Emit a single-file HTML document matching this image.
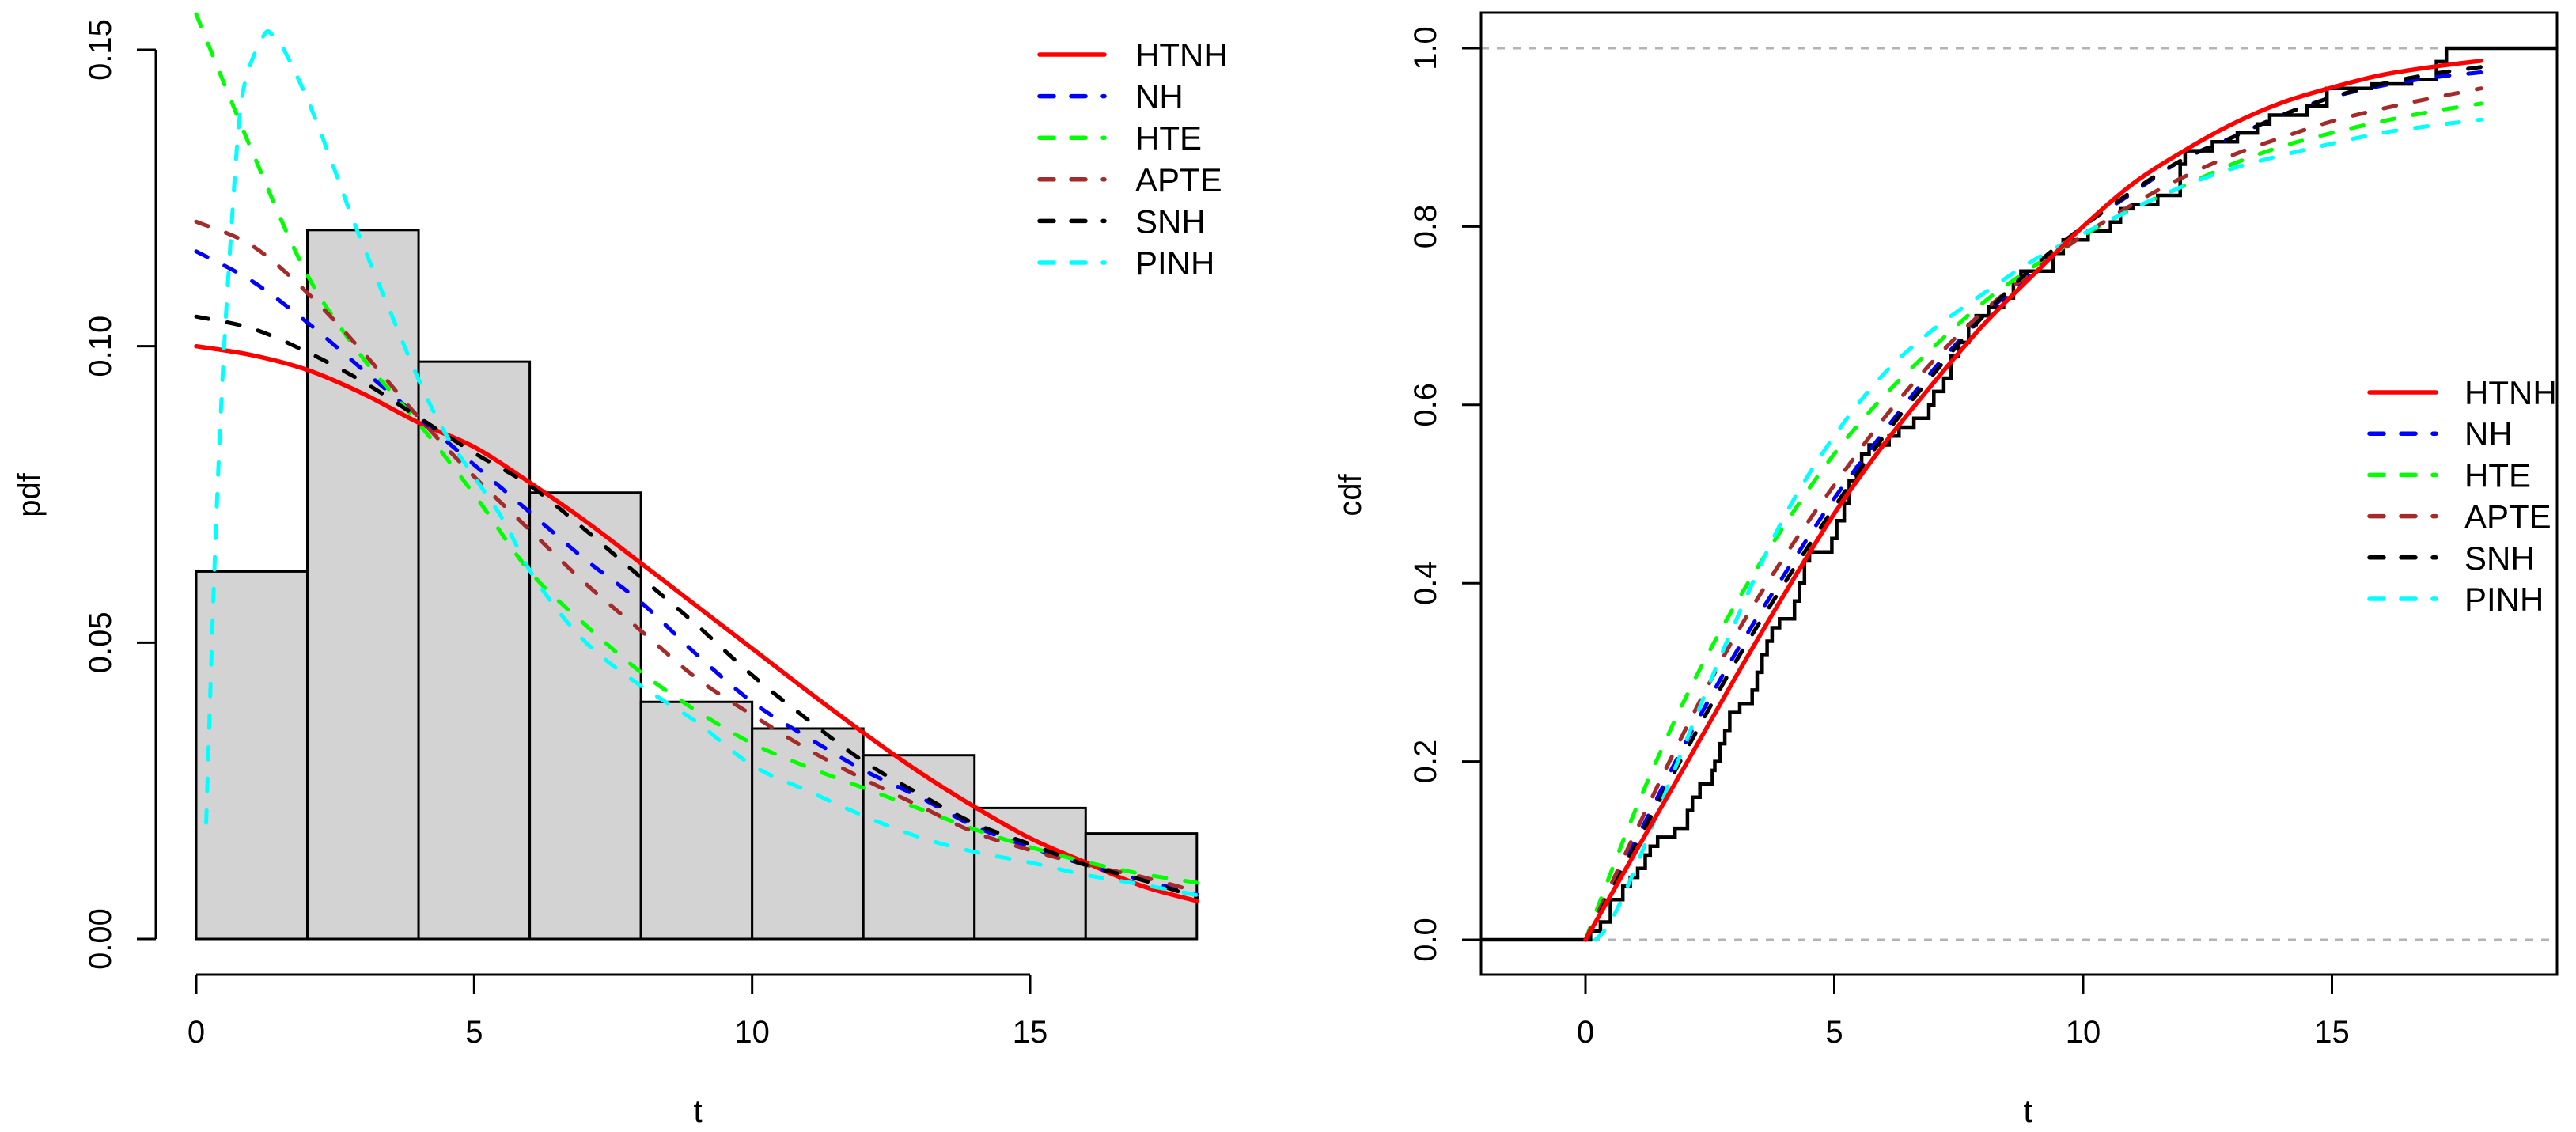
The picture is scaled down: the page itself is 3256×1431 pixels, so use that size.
<!DOCTYPE html>
<html><head><meta charset="utf-8">
<style>
html,body{margin:0;padding:0;background:#fff;}
svg{display:block;}
text{font-family:"Liberation Sans",sans-serif;fill:#000;}
</style></head>
<body>
<svg id="fig" width="3256" height="1431" viewBox="0 0 3256 1431" xmlns="http://www.w3.org/2000/svg">
<g id="left"></g>
<g id="right"></g>
</svg>
<script>
// ---------- data: left (pdf) ----------
const binEdges = [0,2,4,6,8,10,12,14,16,18];
const histHeights = [0.062,0.1196,0.0974,0.0753,0.0400,0.0355,0.0310,0.0221,0.0178];
const tGrid = [0,1,2,3,4,5,6,7,8,9,10,11,12,13,14,15,16,17,18];
const pdfHTNH = [0.100,0.0985,0.096,0.092,0.0871,0.083,0.077,0.0705,0.0634,0.0562,0.049,0.0418,0.0348,0.0282,0.0223,0.017,0.0129,0.009,0.0064];
const pdfNH   = [0.116,0.111,0.104,0.096,0.088,0.080,0.072,0.064,0.0568,0.048,0.040,0.034,0.0285,0.024,0.019,0.0155,0.0125,0.010,0.0075];
const pdfHTE  = [0.156,0.133,0.112,0.098,0.087,0.075,0.062,0.053,0.045,0.0385,0.033,0.029,0.0255,0.022,0.0185,0.0155,0.013,0.011,0.0095];
const pdfAPTE = [0.121,0.117,0.109,0.099,0.088,0.078,0.069,0.060,0.052,0.044,0.0378,0.032,0.027,0.0225,0.018,0.015,0.0125,0.0105,0.008];
const pdfSNH  = [0.105,0.103,0.099,0.094,0.088,0.082,0.0765,0.069,0.061,0.053,0.0445,0.037,0.030,0.0245,0.0195,0.016,0.0125,0.010,0.007];
const tPINH   = [0.18,0.33,0.47,0.62,0.77,0.92,1.22,1.36,1.59,2.03,2.48,2.85,3.44,4.0,4.48,5.0,5.52,6.0,6.55,7.15,8,9,10,11,12,13,14,15,16,17,18];
const pdfPINH = [0.0196,0.063,0.094,0.118,0.1376,0.146,0.1525,0.1526,0.1498,0.141,0.130,0.1206,0.107,0.0944,0.0853,0.078,0.0707,0.0622,0.0549,0.0488,0.0427,0.0366,0.0293,0.025,0.0208,0.0172,0.0147,0.0129,0.0108,0.0092,0.0074];
const pdfXTicks = [0,5,10,15];
const pdfYTicks = [0,0.05,0.10,0.15];
const pdfYTickLabels = ["0.00","0.05","0.10","0.15"];
// ---------- data: right (cdf) ----------
const cdfHTNH = [0,0.098,0.195,0.293,0.388,0.478,0.556,0.625,0.69,0.746,0.80,0.848,0.884,0.915,0.939,0.956,0.970,0.979,0.986];
const cdfNH   = [0,0.11,0.22,0.32,0.41,0.495,0.57,0.64,0.70,0.75,0.80,0.838,0.875,0.90,0.925,0.945,0.958,0.967,0.973];
const cdfHTE  = [0,0.145,0.27,0.375,0.465,0.545,0.61,0.665,0.715,0.755,0.79,0.82,0.845,0.87,0.89,0.905,0.918,0.929,0.938];
const cdfAPTE = [0,0.12,0.235,0.34,0.43,0.51,0.585,0.65,0.705,0.75,0.79,0.825,0.855,0.88,0.90,0.918,0.932,0.944,0.955];
const cdfSNH  = [0,0.105,0.21,0.31,0.40,0.485,0.565,0.635,0.70,0.755,0.80,0.84,0.875,0.90,0.925,0.945,0.96,0.971,0.979];
const tPINHc  = [0.2,0.5,1,2,3,4,5,6,7,8,9,10,11,12,13,14,15,16,17,18];
const cdfPINH = [0,0.02,0.08,0.22,0.355,0.475,0.565,0.635,0.685,0.725,0.762,0.792,0.82,0.845,0.865,0.88,0.893,0.905,0.913,0.920];
const ecdfT = [0.1,0.3,0.5,0.75,0.9,1.05,1.2,1.3,1.45,1.8,2.05,2.15,2.3,2.55,2.6,2.7,2.8,2.9,3.1,3.35,3.45,3.55,3.65,3.75,3.9,4.2,4.3,4.4,4.5,4.95,5.05,5.2,5.3,5.45,5.55,5.7,6.1,6.3,6.6,6.9,7.0,7.2,7.35,7.5,7.7,7.85,8.1,8.4,8.6,8.75,9.4,9.6,10.1,10.55,10.75,11.0,11.5,11.95,12.05,12.6,13.1,13.5,13.75,14.5,14.9,15.8,16.6,17.1,17.3];
const ecdfF = [0.01,0.02,0.045,0.06,0.07,0.08,0.095,0.105,0.115,0.125,0.145,0.16,0.175,0.19,0.2,0.22,0.235,0.255,0.265,0.28,0.3,0.32,0.335,0.35,0.36,0.38,0.4,0.425,0.435,0.45,0.47,0.49,0.515,0.53,0.545,0.555,0.565,0.575,0.585,0.6,0.615,0.63,0.655,0.67,0.69,0.7,0.71,0.72,0.735,0.75,0.77,0.785,0.795,0.805,0.82,0.825,0.835,0.87,0.885,0.895,0.905,0.915,0.925,0.935,0.955,0.96,0.965,0.985,1.0];
const cdfXTicks = [0,5,10,15];
const cdfYTicks = [0,0.2,0.4,0.6,0.8,1.0];
const cdfYTickLabels = ["0.0","0.2","0.4","0.6","0.8","1.0"];
const legendLabels = ["HTNH","NH","HTE","APTE","SNH","PINH"];
const legendColors = ["#ff0000","#0000ff","#00ff00","#a52a2a","#000000","#00ffff"];

const NS="http://www.w3.org/2000/svg";
function mk(parent,tag,attrs){const e=document.createElementNS(NS,tag);for(const k in attrs)e.setAttribute(k,attrs[k]);parent.appendChild(e);return e;}
function smoothPath(xs,ys){
  let d="M"+xs[0].toFixed(1)+","+ys[0].toFixed(1);
  for(let i=0;i<xs.length-1;i++){
    const x0=xs[Math.max(0,i-1)],y0=ys[Math.max(0,i-1)],x1=xs[i],y1=ys[i],x2=xs[i+1],y2=ys[i+1],x3=xs[Math.min(xs.length-1,i+2)],y3=ys[Math.min(xs.length-1,i+2)];
    const c1x=x1+(x2-x0)/6,c1y=y1+(y2-y0)/6,c2x=x2-(x3-x1)/6,c2y=y2-(y3-y1)/6;
    d+=" C"+c1x.toFixed(1)+","+c1y.toFixed(1)+" "+c2x.toFixed(1)+","+c2y.toFixed(1)+" "+x2.toFixed(1)+","+y2.toFixed(1);
  }
  return d;
}
const FS=40, LFS=42, DASH="16 24";

// ---------- left panel ----------
const L=document.getElementById('left');
const lx=t=>248+t*(1302-248)/15;
const ly=v=>1187-v*(1187-63)/0.15;
for(let i=0;i<histHeights.length;i++){
  const r=mk(L,'rect',{x:lx(binEdges[i]),y:ly(histHeights[i]),width:lx(binEdges[i+1])-lx(binEdges[i]),height:ly(0)-ly(histHeights[i]),fill:'#d3d3d3',stroke:'#000','stroke-width':3});
  
  
}
function lcurve(xs,vs,color,dashed,name){
  const p=mk(L,'path',{d:smoothPath(xs.map(lx),vs.map(ly)),fill:'none',stroke:color,'stroke-width':dashed?5:5.5,'stroke-linecap':'round'});
  if(dashed)p.setAttribute('stroke-dasharray',DASH);
  
  
}
lcurve(tGrid,pdfHTNH,'#ff0000',false,'pdf-htnh-line');
lcurve(tGrid,pdfNH,'#0000ff',true,'pdf-nh-line');
lcurve(tGrid,pdfHTE,'#00ff00',true,'pdf-hte-line');
lcurve(tGrid,pdfAPTE,'#a52a2a',true,'pdf-apte-line');
lcurve(tGrid,pdfSNH,'#000000',true,'pdf-snh-line');
lcurve(tPINH,pdfPINH,'#00ffff',true,'pdf-pinh-line');
// axes
let ax=mk(L,'path',{d:"M"+lx(0)+",1232 H"+lx(15),stroke:'#000','stroke-width':3,fill:'none'});

pdfXTicks.forEach(t=>{
  mk(L,'line',{x1:lx(t),x2:lx(t),y1:1232,y2:1257,stroke:'#000','stroke-width':3});
  const tx=mk(L,'text',{x:lx(t),y:1318,'text-anchor':'middle','font-size':FS});tx.textContent=t;
  
});
ax=mk(L,'path',{d:"M197,"+ly(0)+" V"+ly(0.15),stroke:'#000','stroke-width':3,fill:'none'});

pdfYTicks.forEach((v,i)=>{
  mk(L,'line',{x1:173,x2:197,y1:ly(v),y2:ly(v),stroke:'#000','stroke-width':3});
  const tx=mk(L,'text',{x:0,y:0,'text-anchor':'middle','font-size':FS,transform:"translate(140,"+ly(v)+") rotate(-90)"});tx.textContent=pdfYTickLabels[i];
  
});
let t1=mk(L,'text',{x:882,y:1418,'text-anchor':'middle','font-size':FS});t1.textContent='t';

t1=mk(L,'text',{x:0,y:0,'text-anchor':'middle','font-size':FS,transform:"translate(50,626) rotate(-90)"});t1.textContent='pdf';

function legend(g,x1,x2,tx,y0,dy,prefix){
  legendLabels.forEach((lab,i)=>{
    const y=y0+i*dy;
    const ln=mk(g,'line',{x1:x1,x2:x2,y1:y,y2:y,stroke:legendColors[i],'stroke-width':5.5,'stroke-linecap':'round'});
    if(i>0)ln.setAttribute('stroke-dasharray',"18 22");
    
    
    const t=mk(g,'text',{x:tx,y:y+15,'font-size':LFS});t.textContent=lab;
    
    
  });
}
legend(L,1314,1396,1435,69,52.6,'pdf');

// ---------- right panel ----------
const R=document.getElementById('right');
const rx=t=>2004+t*62.9;
const ry=v=>1188-v*(1188-61);
let gl=mk(R,'line',{x1:1872,x2:3232,y1:ry(0),y2:ry(0),stroke:'#b3b3b3','stroke-width':3,'stroke-dasharray':'10 10'});

gl=mk(R,'line',{x1:1872,x2:3232,y1:ry(1),y2:ry(1),stroke:'#b3b3b3','stroke-width':3,'stroke-dasharray':'10 10'});

// ecdf
let d="M1872,"+ry(0)+" H"+rx(ecdfT[0]);
for(let i=0;i<ecdfT.length;i++){d+=" H"+rx(ecdfT[i]).toFixed(1)+" V"+ry(ecdfF[i]).toFixed(1);}
d+=" H3232";
const ep=mk(R,'path',{d:d,fill:'none',stroke:'#000','stroke-width':4.5});

function rcurve(xs,vs,color,dashed,name){
  const p=mk(R,'path',{d:smoothPath(xs.map(rx),vs.map(ry)),fill:'none',stroke:color,'stroke-width':dashed?5:5.5,'stroke-linecap':'round'});
  if(dashed)p.setAttribute('stroke-dasharray',DASH);
  
  
}
rcurve(tGrid,cdfNH,'#0000ff',true,'cdf-nh-line');
rcurve(tGrid,cdfHTE,'#00ff00',true,'cdf-hte-line');
rcurve(tGrid,cdfAPTE,'#a52a2a',true,'cdf-apte-line');
rcurve(tGrid,cdfSNH,'#000000',true,'cdf-snh-line');
rcurve(tPINHc,cdfPINH,'#00ffff',true,'cdf-pinh-line');
rcurve(tGrid,cdfHTNH,'#ff0000',false,'cdf-htnh-line');
const box=mk(R,'rect',{x:1872,y:16,width:3232-1872,height:1232-16,fill:'none',stroke:'#000','stroke-width':3});

cdfXTicks.forEach(t=>{
  mk(R,'line',{x1:rx(t),x2:rx(t),y1:1232,y2:1257,stroke:'#000','stroke-width':3});
  const tx=mk(R,'text',{x:rx(t),y:1318,'text-anchor':'middle','font-size':FS});tx.textContent=t;
  
});
cdfYTicks.forEach((v,i)=>{
  mk(R,'line',{x1:1848,x2:1872,y1:ry(v),y2:ry(v),stroke:'#000','stroke-width':3});
  const tx=mk(R,'text',{x:0,y:0,'text-anchor':'middle','font-size':FS,transform:"translate(1815,"+ry(v)+") rotate(-90)"});tx.textContent=cdfYTickLabels[i];
  
});
t1=mk(R,'text',{x:2563,y:1418,'text-anchor':'middle','font-size':FS});t1.textContent='t';

t1=mk(R,'text',{x:0,y:0,'text-anchor':'middle','font-size':FS,transform:"translate(1720,626) rotate(-90)"});t1.textContent='cdf';

legend(R,2995,3079,3115,496,52.2,'cdf');
</script>
</body></html>
